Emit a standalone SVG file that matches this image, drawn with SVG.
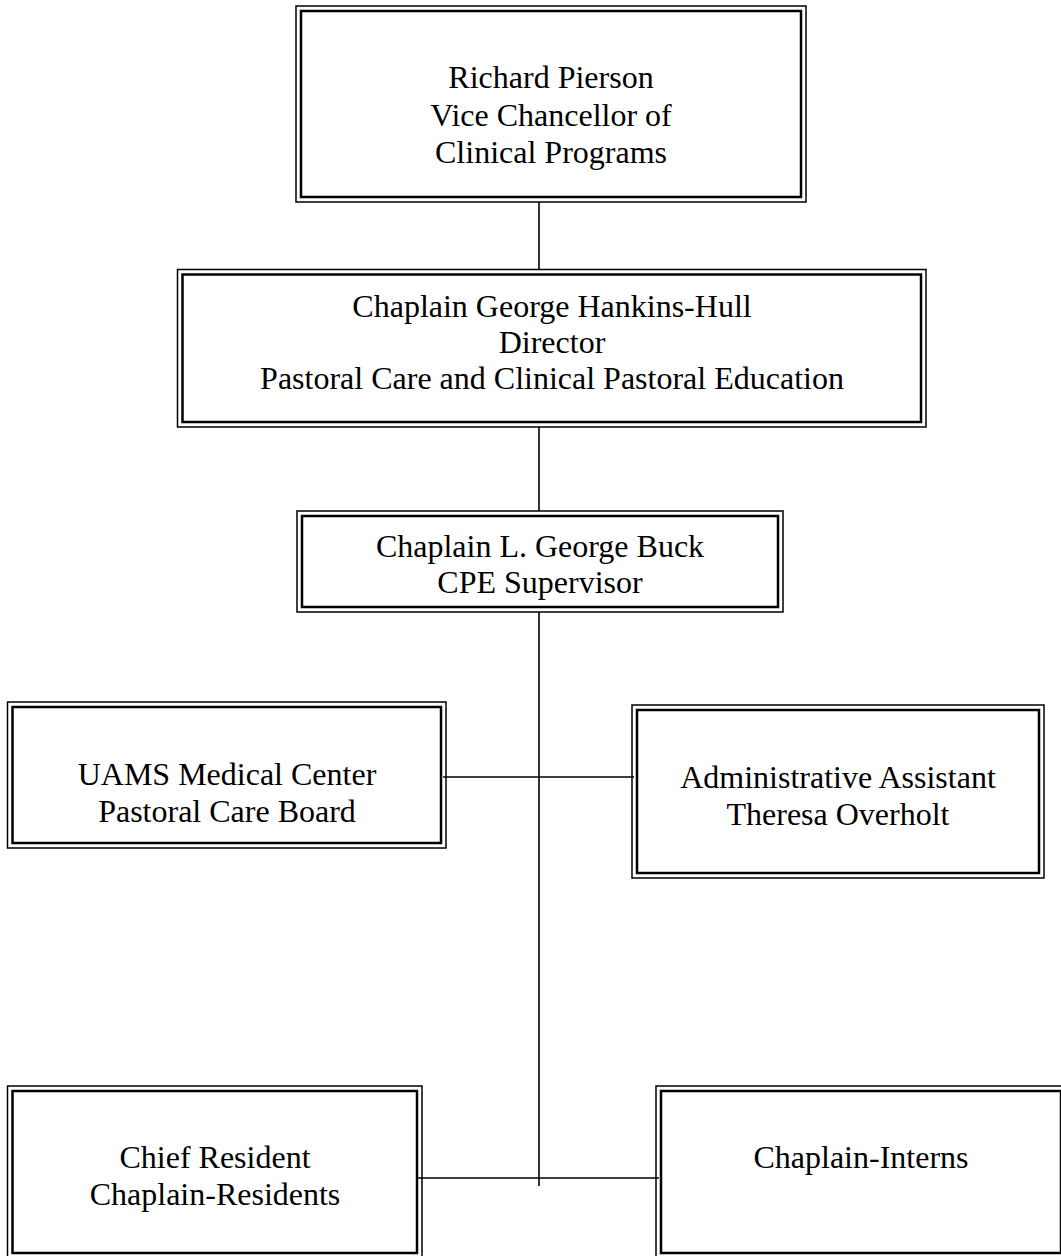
<svg xmlns="http://www.w3.org/2000/svg" width="1061" height="1256" viewBox="0 0 1061 1256">
<style>
.o{fill:none;stroke:#000;stroke-width:1.5}
.i{fill:none;stroke:#000;stroke-width:2.5}
.t{font-family:"Liberation Serif","Times New Roman",serif;font-size:32px;fill:#000;text-anchor:middle}
.c{stroke:#000;stroke-width:1.6;fill:none}
</style>
<rect width="1061" height="1256" fill="#fff"/>
<g id="connectors">
<line class="c" x1="539" y1="202" x2="539" y2="270"/>
<line class="c" x1="539" y1="427" x2="539" y2="511"/>
<line class="c" x1="539" y1="612" x2="539" y2="1186"/>
<line class="c" x1="443" y1="777" x2="634" y2="777"/>
<line class="c" x1="418" y1="1178" x2="659" y2="1178"/>
</g>
<g id="node-pierson">
<rect class="o" x="296" y="6" width="510" height="196"/>
<rect class="i" x="301" y="11" width="500" height="186"/>
<text class="t" x="551" y="88">Richard Pierson</text>
<text class="t" x="551" y="125.5">Vice Chancellor of</text>
<text class="t" x="551" y="163">Clinical Programs</text>
</g>
<g id="node-hankins-hull">
<rect class="o" x="177.5" y="269.5" width="748.5" height="157.5"/>
<rect class="i" x="182.5" y="274.5" width="738.5" height="147.5"/>
<text class="t" x="552" y="317">Chaplain George Hankins-Hull</text>
<text class="t" x="552" y="353">Director</text>
<text class="t" x="552" y="389">Pastoral Care and Clinical Pastoral Education</text>
</g>
<g id="node-buck">
<rect class="o" x="297" y="511" width="486" height="101"/>
<rect class="i" x="302" y="516" width="476" height="91"/>
<text class="t" x="540" y="557">Chaplain L. George Buck</text>
<text class="t" x="540" y="593">CPE Supervisor</text>
</g>
<g id="node-uams">
<rect class="o" x="7.5" y="702" width="438.5" height="146"/>
<rect class="i" x="12.5" y="707" width="428.5" height="136"/>
<text class="t" x="227" y="785">UAMS Medical Center</text>
<text class="t" x="227" y="822">Pastoral Care Board</text>
</g>
<g id="node-admin">
<rect class="o" x="632" y="705" width="412" height="173"/>
<rect class="i" x="637" y="710" width="402" height="163"/>
<text class="t" x="838" y="788">Administrative Assistant</text>
<text class="t" x="838" y="825">Theresa Overholt</text>
</g>
<g id="node-residents">
<rect class="o" x="7.5" y="1086" width="414.5" height="172"/>
<rect class="i" x="12.5" y="1091" width="404.5" height="162"/>
<text class="t" x="215" y="1168">Chief Resident</text>
<text class="t" x="215" y="1205">Chaplain-Residents</text>
</g>
<g id="node-interns">
<rect class="o" x="656" y="1086" width="410" height="172"/>
<rect class="i" x="661" y="1091" width="400" height="162"/>
<text class="t" x="861" y="1168">Chaplain-Interns</text>
</g>
</svg>
